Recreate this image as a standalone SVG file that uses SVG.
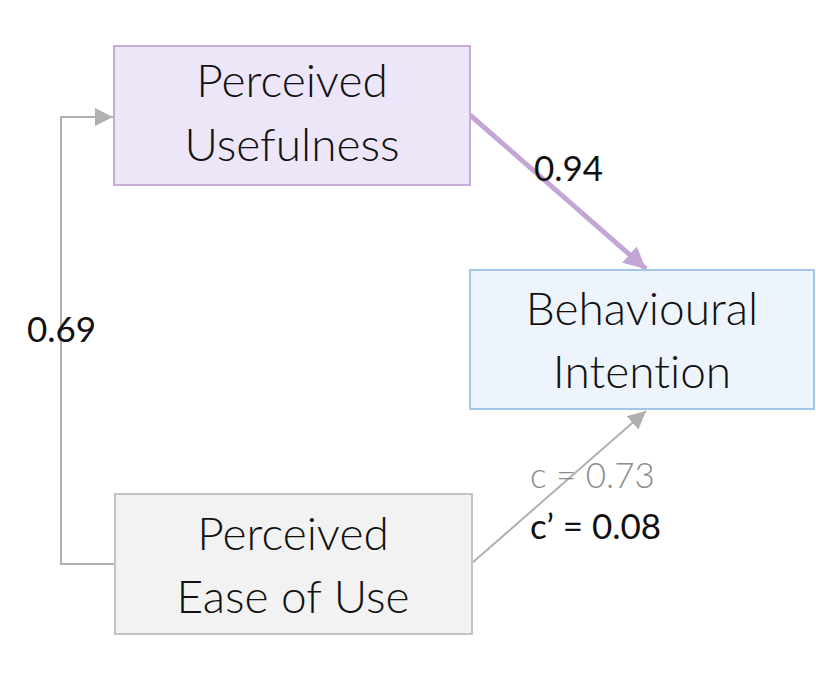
<svg xmlns="http://www.w3.org/2000/svg" width="816" height="676" viewBox="0 0 816 676">
<style>
.node-text{font-family:Lato,"Liberation Sans",Arial,sans-serif;font-weight:300;font-size:46px;fill:#111;text-anchor:middle;font-variant-ligatures:none}
.lbl{font-family:Lato,"Liberation Sans",Arial,sans-serif;font-size:35px;fill:#111;font-variant-ligatures:none}
.gray-line{fill:none;stroke:#b0b0b0;stroke-width:2}
</style>
<defs>
<marker id="ahGray2" viewBox="0 0 10 10" refX="10" refY="5" markerWidth="18" markerHeight="18" markerUnits="userSpaceOnUse" orient="auto">
<path d="M0,0 L10,5 L0,10 z" fill="#b0b0b0"/>
</marker>
<marker id="ahPurple" viewBox="0 0 10 10" refX="10" refY="5" markerWidth="22" markerHeight="22" markerUnits="userSpaceOnUse" orient="auto">
<path d="M0,0 L10,5 L0,10 z" fill="#c3a6d6"/>
</marker>
</defs>
<rect width="816" height="676" fill="#ffffff"/>
<g id="connectors">
<path class="gray-line" d="M115,564 H61 V117 H113" marker-end="url(#ahGray2)"/>
<line x1="470" y1="115" x2="646" y2="269" stroke="#c3a6d6" stroke-width="5" marker-end="url(#ahPurple)"/>
<line class="gray-line" x1="472" y1="563" x2="646" y2="411" marker-end="url(#ahGray2)"/>
</g>
<g id="node-pu">
<rect x="114" y="46" width="356" height="139" fill="#ece6f8" stroke="#c7acd9" stroke-width="2"/>
<text class="node-text" x="292" y="97">Perceived</text>
<text class="node-text" x="292" y="161">Usefulness</text>
</g>
<g id="node-bi">
<rect x="470" y="270" width="344" height="139" fill="#edf4fb" stroke="#a3c6e6" stroke-width="2"/>
<text class="node-text" x="642" y="325">Behavioural</text>
<text class="node-text" x="642" y="388">Intention</text>
</g>
<g id="node-peou">
<rect x="115" y="494" width="357" height="140" fill="#f2f2f2" stroke="#c3c3c3" stroke-width="2"/>
<text class="node-text" x="293" y="550">Perceived</text>
<text class="node-text" x="293" y="613">Ease of Use</text>
</g>
<g id="labels">
<text class="lbl" x="534" y="181">0.94</text>
<text class="lbl" x="27" y="342">0.69</text>
<text class="lbl" x="530" y="488" style="fill:#8c8c8c;font-weight:300">c = 0.73</text>
<text class="lbl" x="530" y="539">c’ = 0.08</text>
</g>
</svg>
